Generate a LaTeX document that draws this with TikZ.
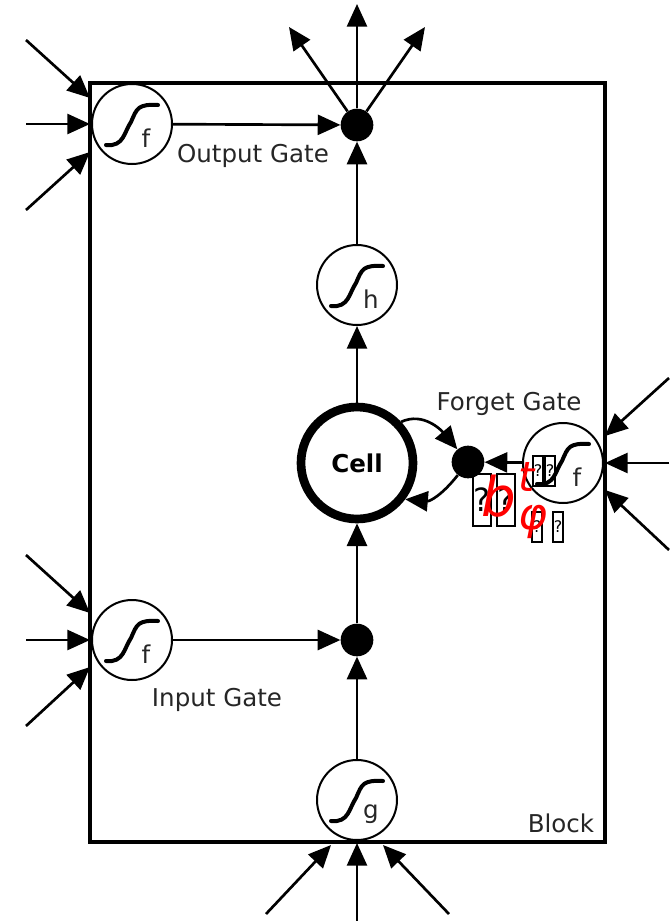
\documentclass[tikz,border=0pt]{standalone}
\usepackage{fontspec}
\setmainfont{DejaVu Sans}
\usetikzlibrary{arrows.meta}
\tikzset{
	flow/.style={draw=black, line width=2pt, -{Triangle[length=17pt, width=15pt]}},
	gate/.style={circle, draw=black, line width=1.5pt, fill=white, minimum size=60pt, inner sep=0pt},
	sigmoid/.style={draw=black, line width=3pt, line cap=round},
	junction/.style={circle, fill=black, minimum size=24.5pt, inner sep=0pt},
	cellbody/.style={circle, draw=black, line width=6.5pt, fill=white, minimum size=84pt, inner sep=0pt, font=\fontsize{18.4}{18.4}\selectfont\bfseries},
	caption/.style={inner sep=0pt, text=black!85, font=\fontsize{18.4}{18.4}\selectfont},
	tofu/.style={draw=black, line width=1.5pt, inner sep=0pt, text=black},
	oddglyph/.style={red, inner sep=0pt}
}
\begin{document}
\begin{tikzpicture}[x=0.75pt, y=-0.75pt]
	\useasboundingbox (0,0) rectangle (669,921);
	% block
	\draw[black, line width=2.6pt] (90,83) rectangle (605,842);
	\node[caption] (blocklabel) at (561,823) {Block};
	% gates with their sigmoid and letter
	\foreach \name/\x/\y/\lab in {outgate/132/124/f, hgate/357/285/h, forgetgate/563/463/f, ingate/132/640/f, ggate/357/800/g} {
		\node[gate] (\name) at (\x,\y) {};
		\draw[sigmoid, shift={(\x,\y)}] (-26,21) .. controls (-8,23) and (-8,8) .. (-1,-2) .. controls (5,-16) and (6,-20) .. (26,-19);
		\node[caption] (\name label) at (\x+14,\y+14) {\lab};
	}
	\node[cellbody] (cell) at (357,463) {Cell};
	\node[junction] (outdot) at (357,125) {};
	\node[junction] (forgetdot) at (468,462) {};
	\node[junction] (indot) at (357,640) {};
	% free ends
	\foreach \name/\x/\y in {a1/26/40, a2/26/124, a3/26/210, a4/90/98, a5/90/124, a6/90/152,
		b1/26/555, b2/26/640, b3/26/726, b4/90/613, b5/90/640, b6/90/667,
		c1/669/378, c2/669/463, c3/669/550, c4/605/436, c5/605/463, c6/605/490,
		d1/266/914, d2/357/921, d3/449/914, d4/331/845, d5/357/843, d6/383/845,
		e1/289/27, e2/357/4, e3/425/27} {
		\coordinate (\name) at (\x,\y);
	}
	% inputs of the gates
	\foreach \i/\j in {a1/a4, a2/a5, a3/a6, b1/b4, b2/b5, b3/b6, c1/c4, c2/c5, c3/c6, d1/d4, d2/d5, d3/d6} {
		\draw[flow] (\i) -- (\j);
	}
	% outputs of the block
	\foreach \j in {e1, e2, e3} {
		\draw[flow] (outdot) -- (\j);
	}
	\draw[flow] (outgate) -- (outdot);
	\draw[flow] (hgate) -- (outdot);
	\draw[flow] (cell) -- (hgate);
	\draw[flow] (indot) -- (cell);
	\draw[flow] (ingate) -- (indot);
	\draw[flow] (ggate) -- (indot);
	\draw[flow] (forgetgate) -- (forgetdot);
	\draw[flow] (cell.43) to[out=25, in=130] (forgetdot);
	\draw[flow] (forgetdot) to[out=232, in=-5, looseness=1.1] (cell.-37);
	% captions
	\node[caption] (outcaption) at (253,156) {Output Gate};
	\node[caption] (forgetcaption) at (509,404) {Forget Gate};
	\node[caption] (incaption) at (217,700) {Input Gate};
	% broken glyphs
	\foreach \name/\x/\y in {t1/482/500, t2/506/500} {
		\node[tofu, minimum width=14pt, minimum height=39pt, font=\fontsize{24}{24}\selectfont] (\name) at (\x,\y) {?};
	}
	\foreach \name/\x/\y in {t3/538/471, t4/550/471} {
		\node[tofu, minimum width=8pt, minimum height=23pt, font=\fontsize{12}{12}\selectfont] (\name) at (\x,\y) {?};
	}
	\foreach \name/\x/\y in {t5/537/527, t6/558/527} {
		\node[tofu, minimum width=8pt, minimum height=22pt, font=\fontsize{12}{12}\selectfont] (\name) at (\x,\y) {?};
	}
	\node[oddglyph, font=\fontsize{41}{41}\selectfont\itshape] (glyphb) at (499,496) {b};
	\node[oddglyph, font=\fontsize{31}{31}\selectfont\itshape] (glypht) at (527,477) {t};
	\node[oddglyph, font=\fontsize{33}{33}\selectfont\itshape] (glyphphi) at (533,522) {φ};
\end{tikzpicture}
\end{document}
